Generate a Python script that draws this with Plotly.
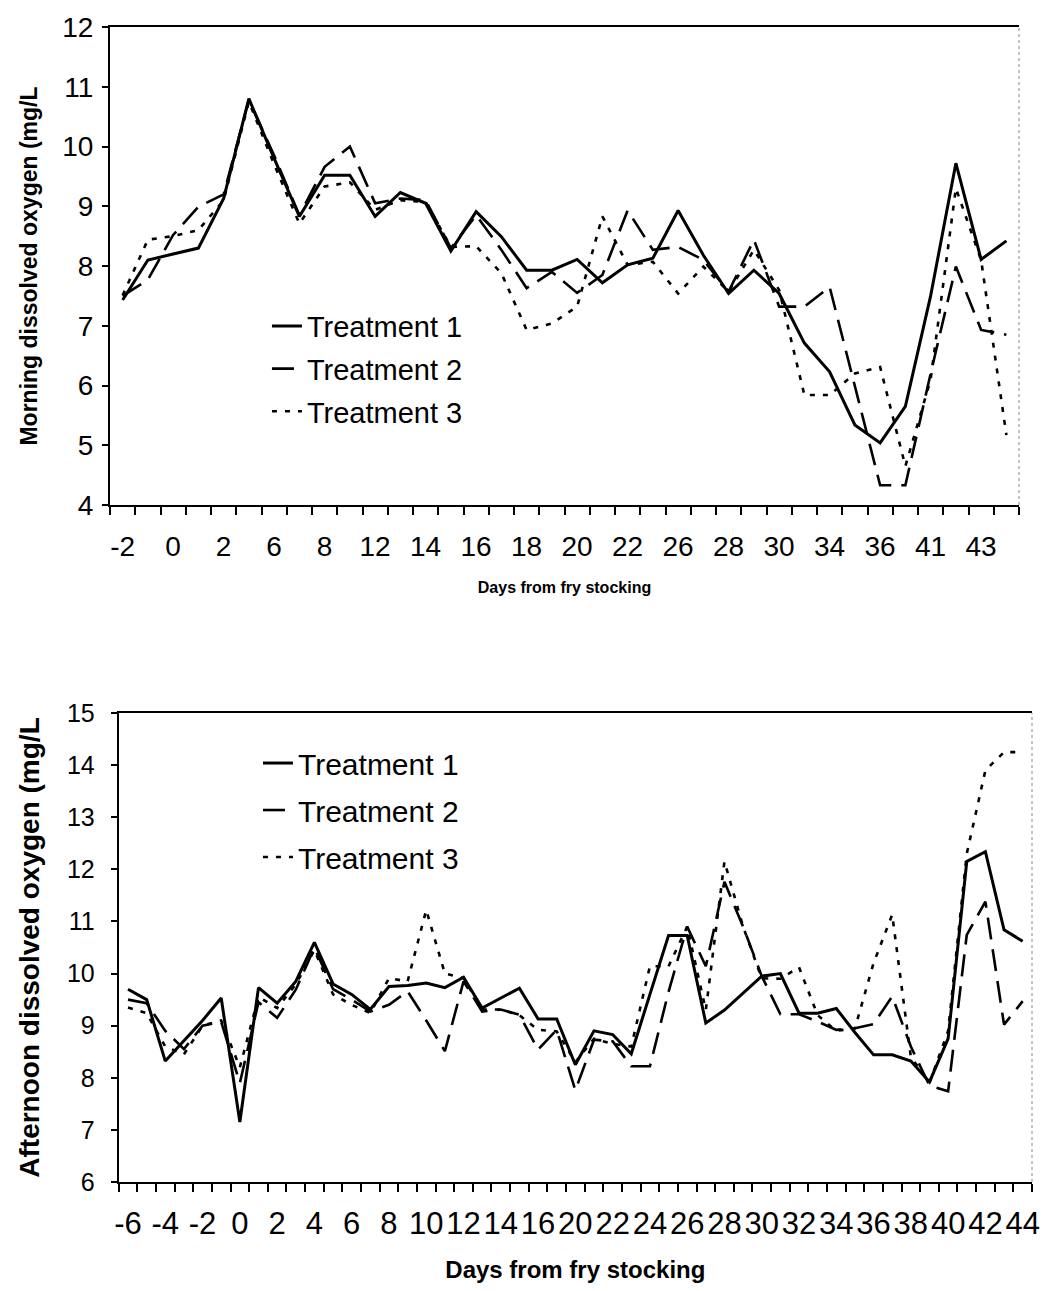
import plotly.graph_objects as go

# ---------------- data ----------------
days_top = ["-2", "-1", "0", "1", "2", "4", "6", "7", "8", "10", "12", "13", "14", "15",
            "16", "17", "18", "19", "20", "21", "22", "24", "26", "27", "28", "29", "30",
            "32", "34", "35", "36", "38", "41", "42", "43", "44"]
morning_t1 = [7.43, 8.10, 8.20, 8.30, 9.13, 10.80, 9.80, 8.83, 9.52, 9.52, 8.83, 9.23,
              9.05, 8.25, 8.91, 8.49, 7.93, 7.93, 8.11, 7.72, 8.02, 8.13, 8.93, 8.18,
              7.54, 7.93, 7.54, 6.71, 6.23, 5.34, 5.04, 5.65, 7.50, 9.72, 8.11, 8.42]
morning_t2 = [7.50, 7.77, 8.52, 8.99, 9.20, 10.78, 9.85, 8.85, 9.66, 10.00, 9.05, 9.13,
              9.10, 8.30, 8.85, 8.27, 7.63, 7.90, 7.55, 7.85, 8.93, 8.27, 8.32, 8.10,
              7.57, 8.44, 7.32, 7.32, 7.65, 5.97, 4.33, 4.33, 6.20, 7.99, 6.93, 6.85]
morning_t3 = [7.51, 8.44, 8.50, 8.60, 9.10, 10.75, 9.70, 8.71, 9.33, 9.40, 8.94, 9.10,
              9.07, 8.32, 8.33, 7.88, 6.93, 7.04, 7.32, 8.83, 8.02, 8.07, 7.54, 7.99,
              7.57, 8.27, 7.60, 5.84, 5.84, 6.20, 6.31, 4.65, 6.10, 9.30, 8.10, 5.17]

days_bottom = ["-6", "-5", "-4", "-3", "-2", "-1", "0", "1", "2", "3", "4", "5", "6", "7",
               "8", "9", "10", "11", "12", "13", "14", "15", "16", "18", "20", "21", "22",
               "23", "24", "25", "26", "27", "28", "29", "30", "31", "32", "33", "34", "35",
               "36", "37", "38", "39", "40", "41", "42", "43", "44"]
afternoon_t1 = [9.70, 9.50, 8.32, 8.70, 9.10, 9.53, 7.15, 9.73, 9.43, 9.85, 10.60, 9.80,
                9.60, 9.31, 9.75, 9.77, 9.82, 9.73, 9.93, 9.34, 9.53, 9.72, 9.13, 9.13,
                8.25, 8.90, 8.83, 8.46, 9.60, 10.73, 10.73, 9.05, 9.30, 9.62, 9.95, 10.00,
                9.24, 9.24, 9.33, 8.87, 8.44, 8.44, 8.32, 7.92, 8.75, 12.15, 12.34, 10.84,
                10.62]
afternoon_t2 = [9.50, 9.43, 8.90, 8.55, 9.00, 9.07, 7.90, 9.45, 9.15, 9.69, 10.50, 9.70,
                9.50, 9.27, 9.40, 9.66, 9.10, 8.51, 9.85, 9.27, 9.31, 9.21, 8.54, 8.92,
                7.76, 8.73, 8.70, 8.22, 8.22, 9.65, 10.90, 10.14, 11.76, 10.90, 9.95, 9.22,
                9.22, 9.08, 8.92, 8.95, 9.03, 9.56, 8.60, 7.85, 7.74, 10.74, 11.38, 9.02,
                9.47]
afternoon_t3 = [9.35, 9.24, 8.60, 8.45, 9.00, 9.10, 8.20, 9.55, 9.34, 9.79, 10.45, 9.60,
                9.40, 9.24, 9.91, 9.85, 11.22, 10.00, 9.91, 9.31, 9.31, 9.20, 8.92, 8.89,
                8.30, 8.75, 8.65, 8.60, 10.14, 10.14, 10.90, 9.30, 12.15, 10.90, 9.91, 9.90,
                10.12, 9.20, 8.90, 8.95, 10.20, 11.13, 8.40, 7.90, 8.90, 12.30, 13.90, 14.25,
                14.25]

series_names = ["Treatment 1", "Treatment 2", "Treatment 3"]

# ---------------- styling ----------------
W, H = 1044, 1291
FONT = "Liberation Sans, Arial, sans-serif"
dash_styles = ["solid", "22px,10px", "5px,8px"]
widths = [3, 2.6, 2.6]

fig = go.Figure()

for name, vals, dash, w in zip(series_names, [morning_t1, morning_t2, morning_t3], dash_styles, widths):
    fig.add_trace(go.Scatter(x=days_top, y=vals, mode="lines", name=name,
                             line=dict(color="black", width=w, dash=dash),
                             xaxis="x", yaxis="y", legend="legend", legendgroup="a" + name))

for name, vals, dash, w in zip(series_names, [afternoon_t1, afternoon_t2, afternoon_t3], dash_styles, widths):
    fig.add_trace(go.Scatter(x=days_bottom, y=vals, mode="lines", name=name,
                             line=dict(color="black", width=w, dash=dash),
                             xaxis="x2", yaxis="y2", legend="legend2", legendgroup="b" + name))


def xaxis_cfg(days, domain, anchor, tick_size, title_size, standoff, lblstand):
    return dict(domain=domain, anchor=anchor, type="category", automargin=False,
                categoryorder="array", categoryarray=days,
                range=[-0.5, len(days) - 0.5],
                tickmode="array", tickvals=days,
                ticktext=[d if i % 2 == 0 else "" for i, d in enumerate(days)],
                tickson="boundaries", ticks="outside", ticklen=8, tickwidth=1.5,
                tickcolor="black", tickangle=0,
                showline=True, linecolor="black", linewidth=2, mirror=True,
                showgrid=False, zeroline=False,
                tickfont=dict(family=FONT, size=tick_size, color="black"),
                ticklabelstandoff=lblstand,
                title=dict(text="<b>Days from fry stocking</b>", standoff=standoff,
                           font=dict(family=FONT, size=title_size, color="black")))


def yaxis_cfg(domain, anchor, rng, tick_size, title, title_size, standoff, lblstand):
    return dict(domain=domain, anchor=anchor, range=rng, dtick=1, tick0=0,
                automargin=False,
                ticks="outside", ticklen=6, tickwidth=1.5, tickcolor="black",
                showline=True, linecolor="black", linewidth=2,
                showgrid=False, zeroline=False,
                tickfont=dict(family=FONT, size=tick_size, color="black"),
                ticklabelstandoff=lblstand,
                title=dict(text=title, standoff=standoff,
                           font=dict(family=FONT, size=title_size, color="black")))


fig.update_layout(
    width=W, height=H,
    margin=dict(l=0, r=0, t=0, b=0, autoexpand=False),
    paper_bgcolor="white", plot_bgcolor="white",
    showlegend=True,
    xaxis=xaxis_cfg(days_top, [110 / W, 1019 / W], "y", 28, 16, 21, 15),
    yaxis=yaxis_cfg([1 - 505 / H, 1 - 27 / H], "x", [4, 12], 28,
                    "<b>Morning dissolved oxygen (mg/L</b>", 23, 18, 3),
    xaxis2=xaxis_cfg(days_bottom, [118.7 / W, 1032 / W], "y2", 31, 24, 21, 13),
    yaxis2=yaxis_cfg([1 - 1182 / H, 1 - 713 / H], "x2", [6, 15], 25,
                     "<b>Afternoon dissolved oxygen (mg/L</b>", 28, 19, 11),
    legend=dict(x=0.2557, y=0.7672, xanchor="left", yanchor="top",
                bgcolor="rgba(0,0,0,0)", tracegroupgap=2,
                font=dict(family=FONT, size=29, color="black")),
    legend2=dict(x=0.2471, y=0.4291, xanchor="left", yanchor="top",
                 bgcolor="rgba(0,0,0,0)", tracegroupgap=5,
                 font=dict(family=FONT, size=30, color="black")),
    shapes=[
        dict(type="line", xref="x domain", yref="y domain", x0=1, x1=1, y0=0, y1=1,
             line=dict(color="#888888", width=1, dash="dot")),
        dict(type="line", xref="x2 domain", yref="y2 domain", x0=1, x1=1, y0=0, y1=1,
             line=dict(color="#888888", width=1, dash="dot")),
    ],
)

# the figure fills the whole 1044x1291 page: drop the browser's default body margin
page_css = ("document.documentElement.style.margin='0';"
            "document.body.style.margin='0';document.body.style.padding='0';"
            "document.body.style.overflow='hidden';")

fig.write_html("out.html", post_script=page_css, config={"displayModeBar": False})
